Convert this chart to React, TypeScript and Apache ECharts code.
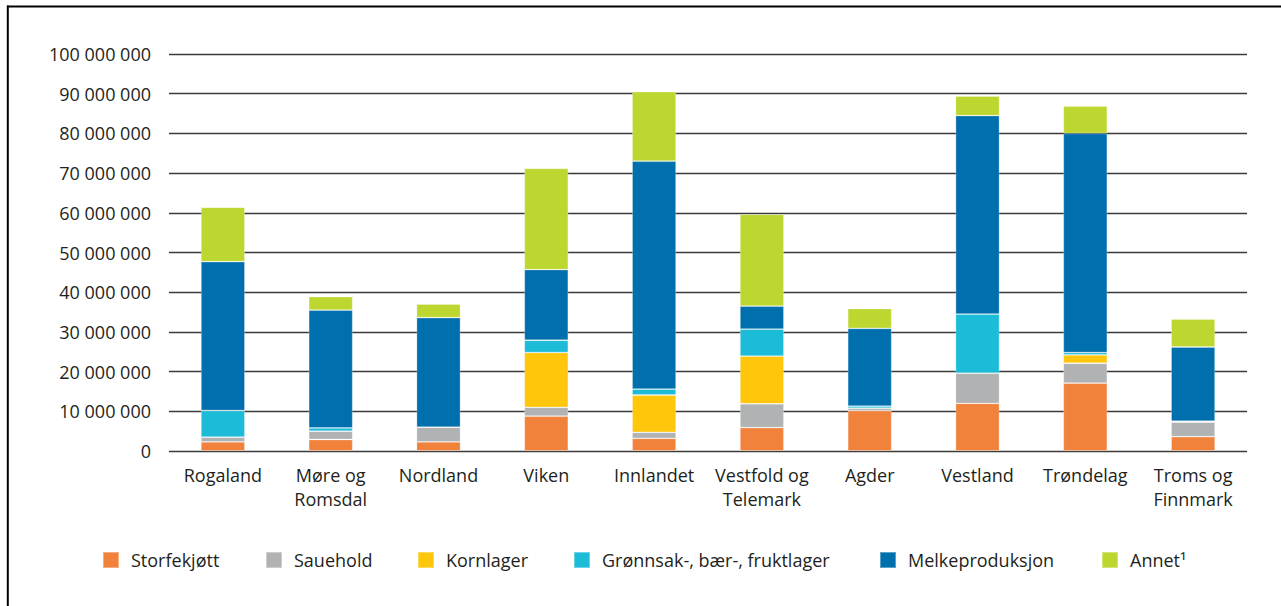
import React, { useEffect, useRef } from "react";
import * as echarts from "echarts";

const categories = [
  "Rogaland",
  "Møre og\nRomsdal",
  "Nordland",
  "Viken",
  "Innlandet",
  "Vestfold og\nTelemark",
  "Agder",
  "Vestland",
  "Trøndelag",
  "Troms og\nFinnmark",
];

const seriesNames = [
  "Storfekjøtt",
  "Sauehold",
  "Kornlager",
  "Grønnsak-, bær-, fruktlager",
  "Melkeproduksjon",
  "Annet¹",
];

const storfekjott = [2.3, 2.9, 2.3, 8.8, 3.2, 5.9, 10.2, 12.0, 17.1, 3.6];
const sauehold = [1.2, 2.1, 3.7, 2.2, 1.5, 6.0, 0.6, 7.6, 5.0, 3.7];
const kornlager = [0, 0, 0, 13.8, 9.4, 12.0, 0, 0, 2.1, 0];
const gronnsak = [6.7, 0.8, 0, 3.1, 1.5, 6.8, 0.5, 14.9, 0.6, 0.2];
const melkeproduksjon = [37.5, 29.7, 27.6, 17.8, 57.4, 5.8, 19.6, 50.0, 55.2, 18.7];
const annet = [13.7, 3.4, 3.4, 25.5, 17.5, 23.1, 5.0, 4.9, 6.9, 7.0];

const colors = ["#F0823C", "#B1B2B4", "#FFC60B", "#1CBCD8", "#006FAD", "#BDD630"];

const yTicks = { min: 0, max: 100000000, interval: 10000000 };

const legendLefts = [102, 265, 417, 573, 879, 1101];

const fmt = (v: number) =>
  String(Math.round(v)).replace(/\B(?=(\d{3})+(?!\d))/g, " ");

export default function App() {
  const ref = useRef<HTMLDivElement>(null);
  useEffect(() => {
    if (!ref.current) return;
    const chart = echarts.init(ref.current, null, { renderer: "svg" });
    const allData = [storfekjott, sauehold, kornlager, gronnsak, melkeproduksjon, annet];
    const font = "'Open Sans', sans-serif";
    chart.setOption({
      animation: false,
      color: colors,
      textStyle: { fontFamily: font },
      grid: { left: 169, right: 34, top: 54, bottom: 155, containLabel: false },
      legend: seriesNames.map((name, i) => ({
        left: legendLefts[i],
        top: 551,
        padding: 0,
        itemWidth: 16,
        itemHeight: 16,
        icon: "rect",
        textStyle: { fontSize: 18, color: "#231f20", fontFamily: font, padding: [0, 0, 0, 7] },
        data: [name],
      })),
      xAxis: {
        type: "category",
        data: categories,
        axisLine: { show: false },
        axisTick: { show: false },
        axisLabel: {
          fontSize: 18,
          color: "#231f20",
          fontFamily: font,
          lineHeight: 24,
          margin: 12,
          interval: 0,
        },
      },
      yAxis: {
        type: "value",
        min: yTicks.min,
        max: yTicks.max,
        interval: yTicks.interval,
        axisLine: { show: false },
        axisTick: { show: false },
        splitLine: { lineStyle: { color: "#3a3a3a", width: 1.3 } },
        axisLabel: {
          fontSize: 18,
          color: "#231f20",
          fontFamily: font,
          margin: 18,
          formatter: (v: number) => fmt(v),
        },
      },
      series: seriesNames.map((name, i) => ({
        name,
        type: "bar",
        stack: "total",
        barWidth: 44,
        itemStyle: { borderColor: "rgba(255,255,255,0.35)", borderWidth: 0.8 },
        data: allData[i].map((v) => v * 1000000),
      })),
      graphic: [
        { type: "line", shape: { x1: 7, y1: 6.5, x2: 1281, y2: 6.5 }, style: { stroke: "#000", lineWidth: 2 } },
        { type: "line", shape: { x1: 7.8, y1: 5.5, x2: 7.8, y2: 606 }, style: { stroke: "#000", lineWidth: 2 } },
      ],
    });
    return () => chart.dispose();
  }, []);
  return (
    <div
      ref={ref}
      style={{ position: "absolute", left: 0, top: 0, width: 1281, height: 606, background: "#fff" }}
    />
  );
}
